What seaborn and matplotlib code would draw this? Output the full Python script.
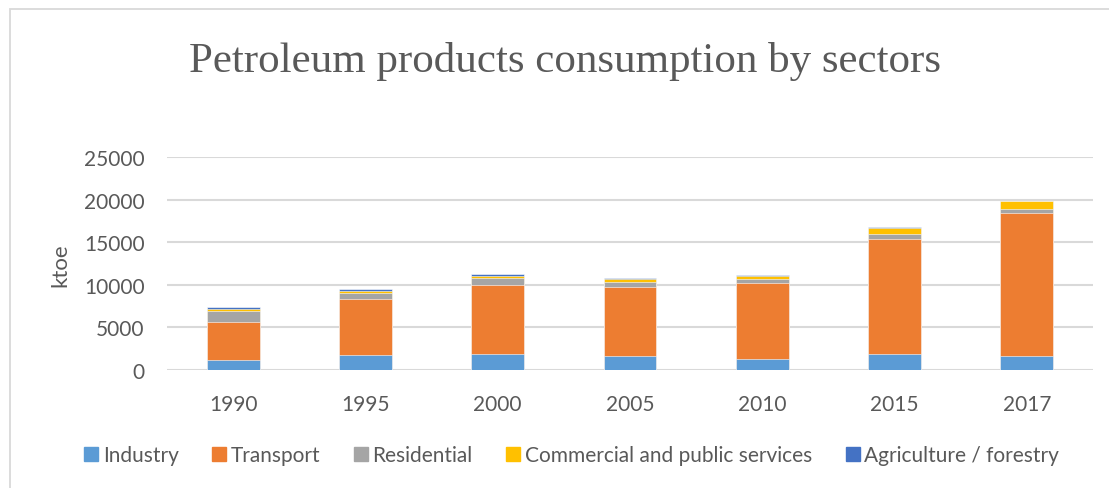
import matplotlib
matplotlib.use("Agg")
import matplotlib.pyplot as plt
from matplotlib.patches import Rectangle
import numpy as np
import pandas as pd
import seaborn as sns

# Petroleum products consumption (ktoe) by sector
years = ["1990", "1995", "2000", "2005", "2010", "2015", "2017"]
industry = [1200, 1750, 1830, 1600, 1330, 1910, 1680]
transport = [4460, 6570, 8170, 8170, 8940, 13480, 16760]
residential = [1290, 700, 820, 580, 390, 590, 540]
commercial = [200, 250, 250, 380, 350, 680, 860]
agriculture = [250, 300, 250, 130, 100, 100, 40]

sectors = ["Industry", "Transport", "Residential",
           "Commercial and public services", "Agriculture / forestry"]
series = [industry, transport, residential, commercial, agriculture]
colors = ["#5B9BD5", "#ED7D31", "#A5A5A5", "#FFC000", "#4472C4"]
yticks = [0, 5000, 10000, 15000, 20000, 25000]

TEXT = "#595959"
GRID = "#D9D9D9"

sns.set_theme(style="white")
plt.rcParams["font.family"] = ["Lato", "DejaVu Sans"]

W, H = 1109, 489
fig = plt.figure(figsize=(W / 100, H / 100), dpi=100)
ax = fig.add_axes([167 / W, 1 - 371 / H, (1093 - 167) / W, (371 - 158.3) / H])

# cumulative stack tops, drawn from the top layer down
values = np.array(series, dtype=float)
tops = np.cumsum(values, axis=0)
for i in range(len(sectors) - 1, -1, -1):
    df = pd.DataFrame({"year": years, "ktoe": tops[i]})
    sns.barplot(data=df, x="year", y="ktoe", order=years, color=colors[i],
                saturation=1, width=0.4, edgecolor="white", linewidth=0.4,
                errorbar=None, ax=ax, zorder=3)

ax.set_ylim(0, 25000)
ax.set_xlim(-0.5, len(years) - 0.5)
ax.set_yticks(yticks)
ax.set_yticklabels([str(v) for v in yticks])
ax.yaxis.grid(True, color=GRID, linewidth=1.5, zorder=0)
ax.set_axisbelow(True)
for s in ax.spines.values():
    s.set_visible(False)
ax.tick_params(axis="both", length=0, labelsize=15, labelcolor=TEXT)
ax.tick_params(axis="x", pad=17)
ax.tick_params(axis="y", pad=16)
ax.set_xlabel("")
ax.set_ylabel("")

fig.text(60 / W, 1 - 265 / H, "ktoe", rotation=90, ha="center", va="center",
         fontsize=16, color=TEXT)

fig.text(565 / W, 1 - 72 / H, "Petroleum products consumption by sectors",
         ha="center", va="baseline", fontsize=31, color=TEXT,
         family=["Liberation Serif", "DejaVu Serif"])

handles = [plt.Line2D([], [], marker="s", linestyle="none", markersize=9.5,
                      markerfacecolor=c, markeredgecolor=c) for c in colors]
leg = fig.legend(handles, sectors, loc="center", ncol=5,
                 bbox_to_anchor=(570 / W, 1 - 456 / H), frameon=False,
                 fontsize=15, handletextpad=0.05, columnspacing=1.45,
                 handlelength=1.0)
for t in leg.get_texts():
    t.set_color(TEXT)

# chart area frame
fig.add_artist(Rectangle((10 / W, -0.1), 1.2, 1 - 10 / H + 0.1,
                         transform=fig.transFigure, fill=False,
                         edgecolor=GRID, linewidth=1.3))

fig.savefig("out.png", dpi=100, facecolor="white")
